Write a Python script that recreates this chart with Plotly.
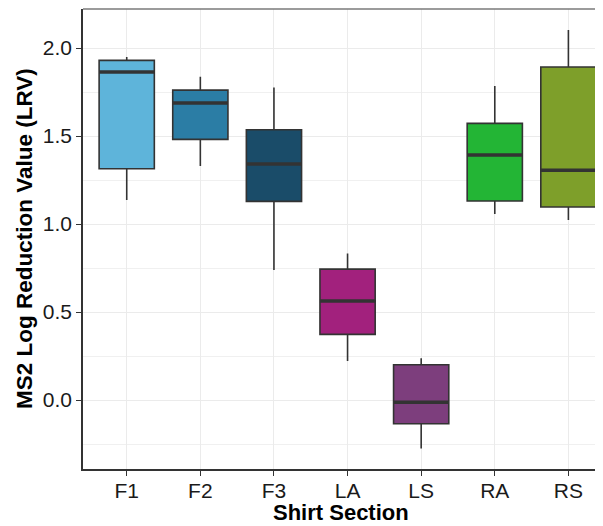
import plotly.graph_objects as go

categories = ["F1", "F2", "F3", "LA", "LS", "RA", "RS"]
lower_whisker = [1.136, 1.330, 0.739, 0.222, -0.275, 1.057, 1.023]
q1_values = [1.314, 1.481, 1.129, 0.373, -0.135, 1.131, 1.097]
median_values = [1.864, 1.688, 1.341, 0.563, -0.013, 1.392, 1.305]
q3_values = [1.930, 1.761, 1.536, 0.744, 0.200, 1.572, 1.892]
upper_whisker = [1.949, 1.837, 1.776, 0.833, 0.237, 1.784, 2.102]
colors = ["#5EB4DA", "#2B7DA5", "#1A4C69", "#A2217D", "#7D3E7D", "#23B535", "#7E9F2A"]
y_ticks = [0.0, 0.5, 1.0, 1.5, 2.0]
y_tick_labels = ["0.0", "0.5", "1.0", "1.5", "2.0"]
x_title = "Shirt Section"
y_title = "MS2 Log Reduction Value (LRV)"

box_width = 0.75
fig = go.Figure()
for i, cat in enumerate(categories):
    fig.add_trace(go.Box(
        x=[i], q1=[q1_values[i]], median=[median_values[i]], q3=[q3_values[i]],
        lowerfence=[lower_whisker[i]], upperfence=[upper_whisker[i]],
        fillcolor=colors[i], line=dict(color="#333333", width=1.6),
        width=box_width, whiskerwidth=0, boxpoints=False, name=cat,
        hoverinfo="skip",
    ))
    fig.add_trace(go.Scatter(
        x=[i - box_width / 2, i + box_width / 2],
        y=[median_values[i], median_values[i]],
        mode="lines", line=dict(color="#333333", width=3.5),
        hoverinfo="skip", showlegend=False,
    ))

# page body has an 8px default margin: shrink figure so the plot lands where the reference has it
font_family = "Liberation Sans, Arial, sans-serif"
fig.update_layout(
    width=595, height=518,
    margin=dict(l=75, r=0, t=1, b=57),
    paper_bgcolor="white", plot_bgcolor="white",
    showlegend=False,
    boxmode="overlay",
    font=dict(family=font_family, color="#1a1a1a"),
    xaxis=dict(
        range=[-0.594, 6.47], tickmode="array",
        tickvals=list(range(len(categories))), ticktext=categories,
        showgrid=True, gridcolor="#EBEBEB", gridwidth=1.3,
        zeroline=False, automargin=False,
        showline=True, linecolor="#333333", linewidth=1.5,
        ticks="outside", ticklen=5, tickcolor="#333333", tickwidth=1.2,
        ticklabelstandoff=-3,
        tickfont=dict(size=21, color="#1a1a1a"),
    ),
    yaxis=dict(
        range=[-0.392, 2.222], tickmode="array",
        tickvals=y_ticks, ticktext=y_tick_labels,
        showgrid=True, gridcolor="#EBEBEB", gridwidth=1.3,
        minor=dict(dtick=0.25, tick0=0.25, showgrid=True, gridcolor="#F0F0F0", gridwidth=0.8),
        zeroline=False, automargin=False,
        showline=True, linecolor="#333333", linewidth=1.5,
        ticks="outside", ticklen=5, tickcolor="#333333", tickwidth=1.2,
        tickfont=dict(size=21, color="#1a1a1a"),
    ),
    shapes=[dict(type="line", xref="paper", yref="paper", x0=0, x1=1, y0=1, y1=1,
                 line=dict(color="#7a7a7a", width=1.5), layer="above")],
    annotations=[
        dict(text="<b>" + x_title + "</b>", xref="paper", yref="paper",
             x=(341 - 83) / 520, y=-(512 - 469) / 460, xanchor="center", yanchor="middle",
             borderpad=0, showarrow=False, font=dict(size=22, color="#000000")),
        dict(text="<b>" + y_title + "</b>", xref="paper", yref="paper",
             x=-(83 - 24) / 520, y=0.5, xanchor="center", yanchor="middle", textangle=-90,
             borderpad=0, showarrow=False, font=dict(size=22.5, color="#000000")),
    ],
)

fig.write_html("out.html")
